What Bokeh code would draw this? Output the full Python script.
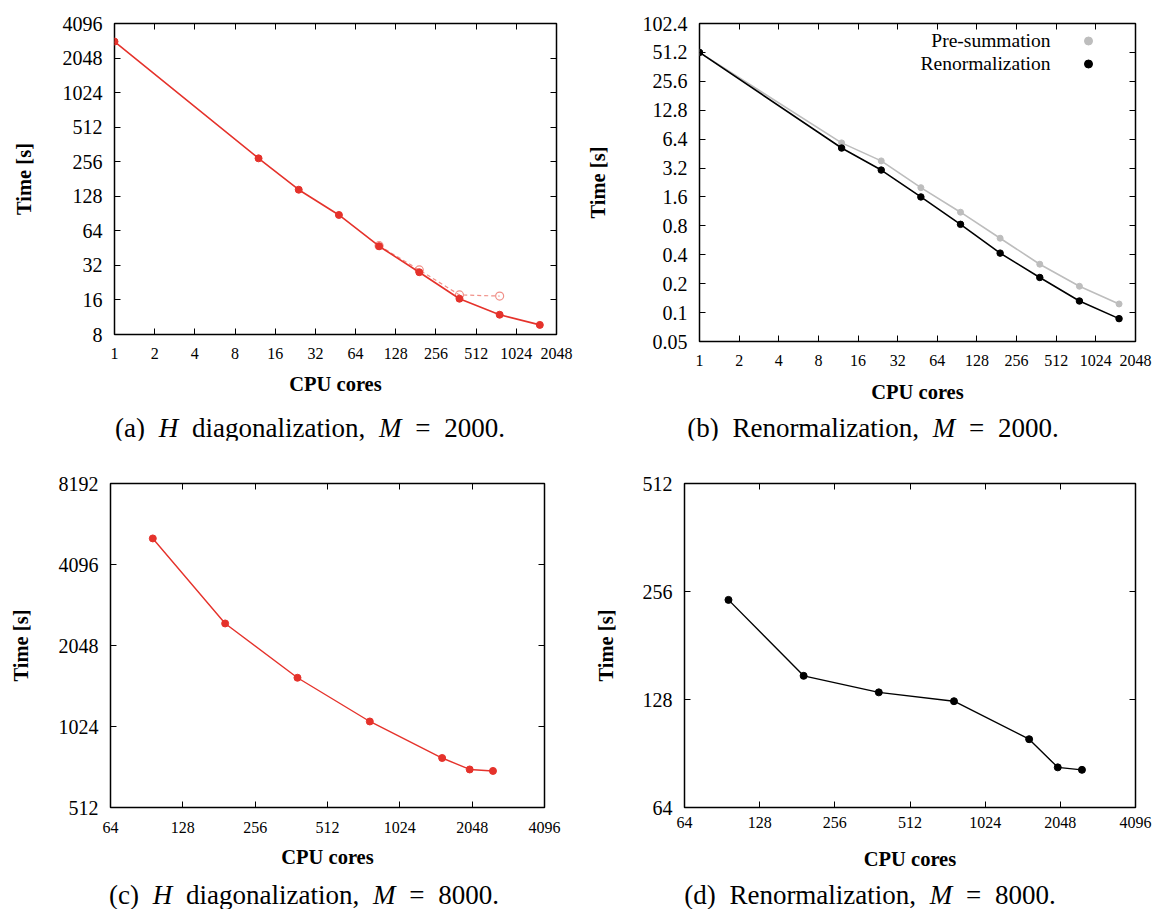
from bokeh.plotting import figure
from bokeh.models import FixedTicker, LogAxis, CustomJSTickFormatter, Legend, LegendItem, Div, Label
from bokeh.core.properties import value
from bokeh.layouts import column, row
from bokeh.embed import file_html
from bokeh.resources import INLINE

# ---------------- data ----------------
# (a) H diagonalization, M = 2000
a_cores = [1, 12, 24, 48, 96, 192, 384, 768, 1536]
a_time = [2850, 274, 146, 88, 47, 27.9, 16.4, 11.9, 9.7]
a_alt_cores = [96, 192, 384, 768]
a_alt_time = [47.5, 29.2, 17.7, 17.3]

# (b) Renormalization, M = 2000
b_cores = [1, 12, 24, 48, 96, 192, 384, 768, 1536]
b_presum = [51.2, 5.85, 3.8, 2.0, 1.11, 0.595, 0.319, 0.188, 0.123]
b_renorm = [51.2, 5.17, 3.05, 1.6, 0.83, 0.416, 0.232, 0.132, 0.0865]

# (c) H diagonalization, M = 8000
c_cores = [96, 192, 384, 768, 1536, 2000, 2500]
c_time = [5120, 2473, 1554, 1069, 782, 709, 700]

# (d) Renormalization, M = 8000
d_cores = [96, 192, 384, 768, 1536, 2000, 2500]
d_time = [242.6, 149, 134, 126.6, 99.2, 82.8, 81.5]

# ticks
x_ticks_top = [1, 2, 4, 8, 16, 32, 64, 128, 256, 512, 1024, 2048]
x_labels_top = ["1", "2", "4", "8", "16", "32", "64", "128", "256", "512", "1024", "2048"]
x_ticks_bot = [64, 128, 256, 512, 1024, 2048, 4096]
x_labels_bot = ["64", "128", "256", "512", "1024", "2048", "4096"]
a_y_ticks = [8, 16, 32, 64, 128, 256, 512, 1024, 2048, 4096]
a_y_labels = ["8", "16", "32", "64", "128", "256", "512", "1024", "2048", "4096"]
b_y_ticks = [0.05, 0.1, 0.2, 0.4, 0.8, 1.6, 3.2, 6.4, 12.8, 25.6, 51.2, 102.4]
b_y_labels = ["0.05", "0.1", "0.2", "0.4", "0.8", "1.6", "3.2", "6.4", "12.8", "25.6", "51.2", "102.4"]
c_y_ticks = [512, 1024, 2048, 4096, 8192]
c_y_labels = ["512", "1024", "2048", "4096", "8192"]
d_y_ticks = [64, 128, 256, 512]
d_y_labels = ["64", "128", "256", "512"]

series_labels = ["Pre-summation", "Renormalization"]
captions = [
    "(a) <i>H</i> diagonalization, <i>M</i> = 2000.",
    "(b) Renormalization, <i>M</i> = 2000.",
    "(c) <i>H</i> diagonalization, <i>M</i> = 8000.",
    "(d) Renormalization, <i>M</i> = 8000.",
]

# ---------------- styling ----------------
SERIF = "Liberation Serif"
RED = "#e5322b"
PINK = "#f09088"
GRAY = "#bdbdbd"


def fmt(tick_values, tick_texts):
    return CustomJSTickFormatter(
        args=dict(tv=tick_values, tl=tick_texts),
        code="""
        for (let i = 0; i < tv.length; i++) {
            if (Math.abs(tv[i] - tick) <= 1e-9 * Math.abs(tv[i])) return tl[i];
        }
        return "";
        """,
    )


def make_fig(xr, yr, xt, xl, yt, yl, fw, fh, bl, br, bt, bb,
             ylab_standoff, xtick_standoff, xlab_standoff):
    p = figure(x_axis_type="log", y_axis_type="log", x_range=xr, y_range=yr,
               frame_width=fw, frame_height=fh,
               min_border_left=bl, min_border_right=br,
               min_border_top=bt, min_border_bottom=bb,
               output_backend="svg", toolbar_location=None)
    p.grid.visible = False
    p.outline_line_color = "black"
    p.outline_line_width = 1.5
    p.background_fill_color = "white"
    p.border_fill_color = "white"

    xa = p.xaxis[0]
    xa.ticker = FixedTicker(ticks=xt)
    xa.formatter = fmt(xt, xl)
    xa.axis_label = "CPU cores"
    xa.major_label_text_font_size = "16px"
    xa.major_label_standoff = xtick_standoff
    xa.axis_label_standoff = xlab_standoff

    ya = p.yaxis[0]
    ya.ticker = FixedTicker(ticks=yt)
    ya.formatter = fmt(yt, yl)
    ya.axis_label = "Time [s]"
    ya.major_label_text_font_size = "20px"
    ya.major_label_standoff = 12
    ya.axis_label_standoff = ylab_standoff

    for ax in (xa, ya):
        ax.axis_line_color = None
        ax.major_tick_in = 6
        ax.major_tick_out = 0
        ax.major_tick_line_color = "black"
        ax.major_tick_line_width = 1
        ax.minor_tick_line_color = None
        ax.major_label_text_font = SERIF
        ax.major_label_text_color = "black"
        ax.axis_label_text_font = SERIF
        ax.axis_label_text_font_style = "bold"
        ax.axis_label_text_font_size = "20.5px"
        ax.axis_label_text_color = "black"

    empty = CustomJSTickFormatter(code="return '';")
    for side, ticks in (("above", xt), ("right", yt)):
        m = LogAxis(ticker=FixedTicker(ticks=ticks), formatter=empty,
                    major_tick_in=6, major_tick_out=0, axis_line_color=None,
                    minor_tick_line_color=None, major_label_standoff=0,
                    major_label_text_font_size="1px")
        p.add_layout(m, side)
    return p


def caption(html, w, pad_left):
    return Div(
        text=(f'<div style="width:{w}px;box-sizing:border-box;padding-left:{pad_left}px;'
              f'text-align:center;white-space:nowrap;font-family:\'{SERIF}\';font-size:27px;'
              f'line-height:24px;word-spacing:7px;color:black;">{html}</div>'),
        width=w, height=24, margin=(0, 0, 0, 0))


# (a)
pa = make_fig((1, 2048), (8, 4096), x_ticks_top, x_labels_top, a_y_ticks, a_y_labels,
              442, 311, 114, 24, 21, 84, 25, 13, 11)
pa.line(a_alt_cores, a_alt_time, line_color=PINK, line_width=1.2, line_dash="4 3")
pa.scatter(a_alt_cores, a_alt_time, marker="circle", size=8, line_color=PINK,
           fill_color=None, line_width=1.2)
pa.line(a_cores, a_time, line_color=RED, line_width=1.6)
pa.scatter(a_cores, a_time, marker="circle", size=7, line_color=RED, fill_color=RED)

# (b)
pb = make_fig((1, 2048), (0.05, 102.4), x_ticks_top, x_labels_top, b_y_ticks, b_y_labels,
              436, 318, 119, 17, 23, 75, 31, 13, 12)
pb.line(b_cores, b_presum, line_color=GRAY, line_width=1.6)
g_sc = pb.scatter(b_cores, b_presum, marker="circle", size=6, line_color=GRAY, fill_color=GRAY)
pb.line(b_cores, b_renorm, line_color="black", line_width=1.6)
k_sc = pb.scatter(b_cores, b_renorm, marker="circle", size=6.5, line_color="black", fill_color="black")
# key: dots from a legend, texts right-aligned to their left (gnuplot style)
leg = Legend(items=[LegendItem(label=value(" "), renderers=[g_sc]),
                    LegendItem(label=value(" "), renderers=[k_sc])],
             location=(379, 266), border_line_color=None, background_fill_alpha=0,
             glyph_width=20, glyph_height=23, label_height=23, label_standoff=0,
             spacing=0, padding=0, margin=0,
             label_text_font=SERIF, label_text_font_size="10px")
pb.add_layout(leg)
for txt, ys in zip(series_labels, (301, 278.3)):
    pb.add_layout(Label(x=351, y=ys, x_units="screen", y_units="screen", text=txt,
                        text_align="right", text_baseline="middle",
                        text_font=SERIF, text_font_size="19.5px", text_color="black"))

# (c)
pc = make_fig((64, 4096), (512, 8192), x_ticks_bot, x_labels_bot, c_y_ticks, c_y_labels,
              434, 324, 110, 36, 43, 76, 24, 14, 10)
pc.line(c_cores, c_time, line_color=RED, line_width=1.4)
pc.scatter(c_cores, c_time, marker="circle", size=7, line_color=RED, fill_color=RED)

# (d)
pd_ = make_fig((64, 4096), (64, 512), x_ticks_bot, x_labels_bot, d_y_ticks, d_y_labels,
               451, 324, 104, 17, 43, 76, 23, 9, 17)
pd_.line(d_cores, d_time, line_color="black", line_width=1.4)
pd_.scatter(d_cores, d_time, marker="circle", size=7, line_color="black", fill_color="black")

layout = column(
    row(pa, pb, spacing=0),
    row(caption(captions[0], 580, 40), caption(captions[1], 572, 14), spacing=0),
    row(pc, pd_, spacing=0),
    row(caption(captions[2], 580, 28), caption(captions[3], 572, 8), spacing=0),
    spacing=0,
)

open("out.html", "w").write(file_html(layout, INLINE))
